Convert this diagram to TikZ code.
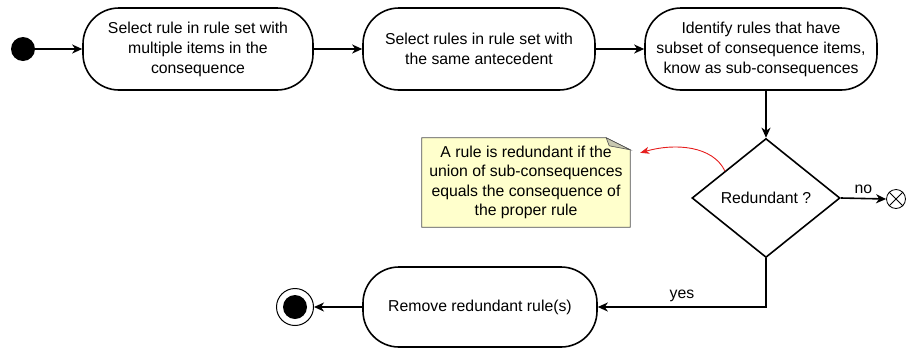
\documentclass[tikz,border=0pt]{standalone}
\usepackage{fontspec}
\setmainfont{Liberation Sans}
\usetikzlibrary{shapes.geometric,arrows.meta,calc,backgrounds}

\definecolor{notefill}{RGB}{255,255,204}
\definecolor{notefold}{RGB}{200,200,176}
\definecolor{noteline}{RGB}{80,80,80}
\definecolor{linkred}{RGB}{230,30,30}

\begin{document}
\begin{tikzpicture}[x=1pt,y=-1pt,
  font=\fontsize{15.8}{20}\selectfont,
  act/.style={draw, line width=1.6pt, rounded corners=36pt, minimum height=82pt,
              align=center, inner sep=0pt},
  flow/.style={line width=1.6pt, -{Stealth[length=10pt,width=9pt,inset=3pt]}},
  decision/.style={draw, diamond, line width=1.6pt, minimum width=148pt,
                   minimum height=119pt, inner sep=0pt},
  notelink/.style={draw=linkred, line width=0.9pt,
                   -{Stealth[length=9pt,width=7pt,inset=2.5pt]}},
]
\useasboundingbox (0,0) rectangle (906,349);

% initial state
\node[circle, fill=black, minimum size=24pt, inner sep=0pt] (start) at (23,49) {};

% activities
\node[act, minimum width=230pt] (b1) at (198,49)
  {Select rule in rule set with\\multiple items in the\\consequence};
\node[act, minimum width=232pt] (b2) at (479,49)
  {Select rules in rule set with\\the same antecedent};
\node[act, minimum width=232pt] (b3) at (761,49)
  {Identify rules that have\\subset of consequence items,\\know as sub-consequences};

% decision
\node[decision] (dia) at (766,198) {Redundant ?};

% flow final
\node[circle, draw, line width=0.8pt, minimum size=19pt, inner sep=0pt] (xc) at (896,199) {};
\draw[line width=0.8pt] (xc.north west) -- (xc.south east)
                        (xc.north east) -- (xc.south west);

% remove activity and final state
\node[act, minimum width=234pt, minimum height=80pt] (b4) at (480,307)
  {Remove redundant rule(s)};
\node[circle, draw, line width=1pt, minimum size=37pt, inner sep=0pt] (stop) at (295,307) {};
\node[circle, fill=black, minimum size=24pt, inner sep=0pt] (stopdot) at (stop) {};

% note
\node[align=center, minimum width=208pt, minimum height=89pt, inner sep=0pt,
      font=\fontsize{15.8}{19.5}\selectfont] (note) at (526,182.5)
  {A rule is redundant if the\\union of sub-consequences\\equals the consequence of\\the proper rule};
\begin{scope}[on background layer]
  \draw[noteline, line width=0.8pt, fill=notefill]
    (note.north west) -- ($(note.north east)+(-24,0)$) -- ($(note.north east)+(0,12)$)
    -- (note.south east) -- (note.south west) -- cycle;
  \draw[noteline, line width=0.6pt, fill=notefold]
    ($(note.north east)+(-24,0)$) -- ($(note.north east)+(-21,8)$)
    -- ($(note.north east)+(0,12)$) -- cycle;
\end{scope}

% control flow
\draw[flow] (start) -- (b1);
\draw[flow] (b1) -- (b2);
\draw[flow] (b2) -- (b3);
\draw[flow] (dia.north |- b3.south) -- (dia.north);
\draw[flow] (dia.east) -- node[above=1pt] {no} (xc.west);
\draw[flow] (dia.south) |- node[pos=0.75, above=1pt] {yes} (b4.east);
\draw[flow] (b4.west) -- (stop.east);

% note attachment
\coordinate (notetip) at ($(note.north east)+(10,15)$);
\draw[notelink] ($(dia.west)!0.45!(dia.north)$) .. controls +(-12,-25) and +(35,-10) .. (notetip);
\end{tikzpicture}
\end{document}
